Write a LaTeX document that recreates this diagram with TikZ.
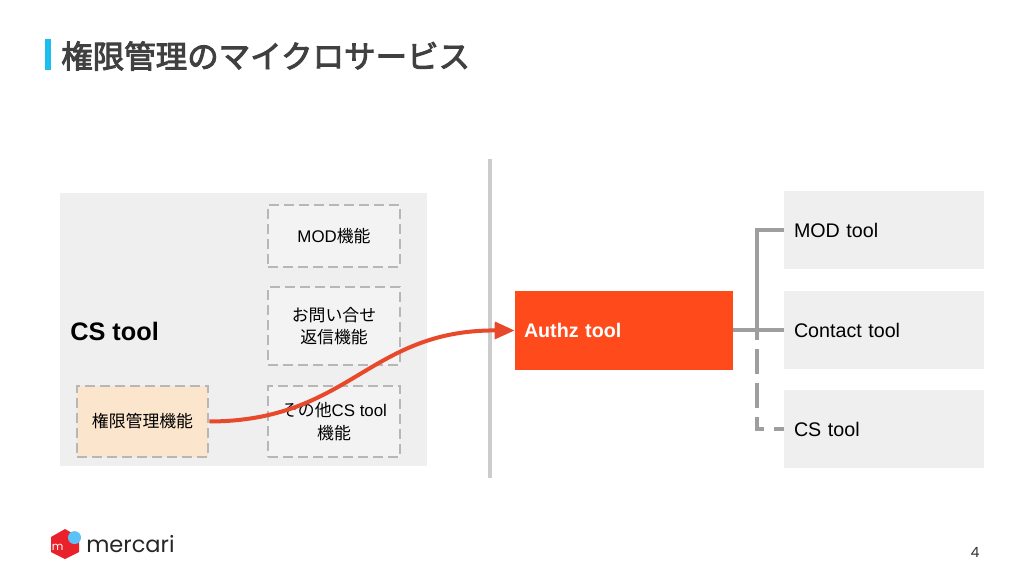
\documentclass[tikz,border=0pt]{standalone}
\usepackage{fontspec}
\setmainfont{Liberation Sans}
\newfontfamily\cjk{Noto Sans CJK JP}
\newfontfamily\cjktitle[FakeBold=3]{Noto Sans CJK JP}
\newfontfamily\logofont{Poppins}
\usetikzlibrary{arrows.meta}
\definecolor{panelgray}{HTML}{EFEFEF}
\definecolor{funcgray}{HTML}{F3F3F3}
\definecolor{dashgray}{HTML}{B7B7B7}
\definecolor{linkgray}{HTML}{9E9E9E}
\definecolor{permpeach}{HTML}{FCE5CD}
\definecolor{authzred}{HTML}{FF4A1C}
\definecolor{flowred}{HTML}{E8492A}
\definecolor{barblue}{HTML}{1CBEF0}
\definecolor{logored}{HTML}{E8212B}
\definecolor{logoblue}{HTML}{5BC2F7}
\tikzset{
    funcbox/.style={draw=dashgray, line width=0.07cm, dash pattern=on 0.24cm off 0.135cm, fill=funcgray,
        minimum width=3.3cm, inner sep=0pt, align=center, font=\fontsize{12}{16}\selectfont},
    toolbox/.style={fill=panelgray, minimum width=5cm, minimum height=1.95cm, text width=4.5cm,
        inner xsep=0.25cm, inner ysep=0pt, align=left, font=\fontsize{14}{17}\selectfont},
    link/.style={draw=linkgray, line width=0.1cm},
}
\begin{document}
\begin{tikzpicture}
    \useasboundingbox (0,0) rectangle (25.6,14.4);

    % タイトル
    \fill[barblue] (1.125,13.425) rectangle (1.275,12.65);
    \node[anchor=west, inner sep=0pt, text=black!75, font=\fontsize{22.4}{26}\cjktitle] (title) at (1.525,13)
        {権限管理のマイクロサービス};

    % 左のパネル
    \node[fill=panelgray, minimum width=9.175cm, minimum height=6.825cm, inner sep=0pt] (cspanel) at (6.0875,6.1625) {};
    \node[anchor=west, inner sep=0pt, font=\fontsize{18}{22}\selectfont\bfseries] (cslabel) at (1.75,6.125) {CS tool};
    \node[funcbox, minimum height=1.55cm] (modfunc) at (8.35,8.5) {MOD{\cjk 機能}};
    \node[funcbox, minimum height=1.95cm] (askfunc) at (8.35,6.25) {{\cjk お問い合せ}\\{\cjk 返信機能}};
    \node[funcbox, minimum height=1.775cm] (otherfunc) at (8.35,3.8625) {{\cjk その他}CS tool\\{\cjk 機能}};
    \node[funcbox, fill=permpeach, minimum width=3.275cm, minimum height=1.775cm] (permfunc) at (3.5625,3.8625) {\cjk 権限管理機能};

    % 仕切り
    \draw[draw=black!20, line width=0.1cm] (12.2375,10.425) -- (12.2375,2.45);

    % 右側
    \node[toolbox, fill=authzred, minimum width=5.45cm, minimum height=1.975cm, text width=5cm,
        inner xsep=0.225cm, text=white, font=\fontsize{14}{17}\selectfont\bfseries] (authz) at (15.6,6.1375) {Authz tool};
    \node[toolbox] (modtool) at (22.1,8.65) {MOD tool};
    \node[toolbox] (contacttool) at (22.1,6.15) {Contact tool};
    \node[toolbox] (cstool) at (22.1,3.675) {CS tool};

    % 接続
    \coordinate (junction) at (18.925,6.15);
    \draw[link] (authz.east |- contacttool.west) -- (contacttool.west);
    \draw[link] (modtool.west) -| (junction);
    \draw[link, dash pattern=on 0.25cm off 0.225cm on 0.625cm off 0.225cm on 0.625cm off 0.225cm on 0.475cm off 0.25cm on 0.3cm]
        (junction) |- (cstool.west);
    \draw[flowred, line width=0.1cm, -{Triangle[length=0.5cm,width=0.42cm]}]
        (permfunc.east) .. controls (8.75,3.875) and (9.2,6.15) .. (authz.west);

    % ロゴ
    \fill[logored] (1.625,1.175) -- (1.975,0.975) -- (1.975,0.6) -- (1.625,0.425)
        -- (1.275,0.6) -- (1.275,0.975) -- cycle;
    \fill[logoblue] (1.8625,0.96) circle (0.1625);
    \node[text=white, inner sep=0pt, font=\fontsize{8}{8}\logofont] (logom) at (1.44,0.72) {m};
    \node[anchor=west, inner sep=0pt, text=black!85, font=\fontsize{16}{20}\logofont] (logotext) at (2.15,0.8) {mercari};

    % ページ番号
    \node[inner sep=0pt, text=black!80, font=\fontsize{10}{11}\logofont] (pagenum) at (24.375,0.6) {4};
\end{tikzpicture}
\end{document}
